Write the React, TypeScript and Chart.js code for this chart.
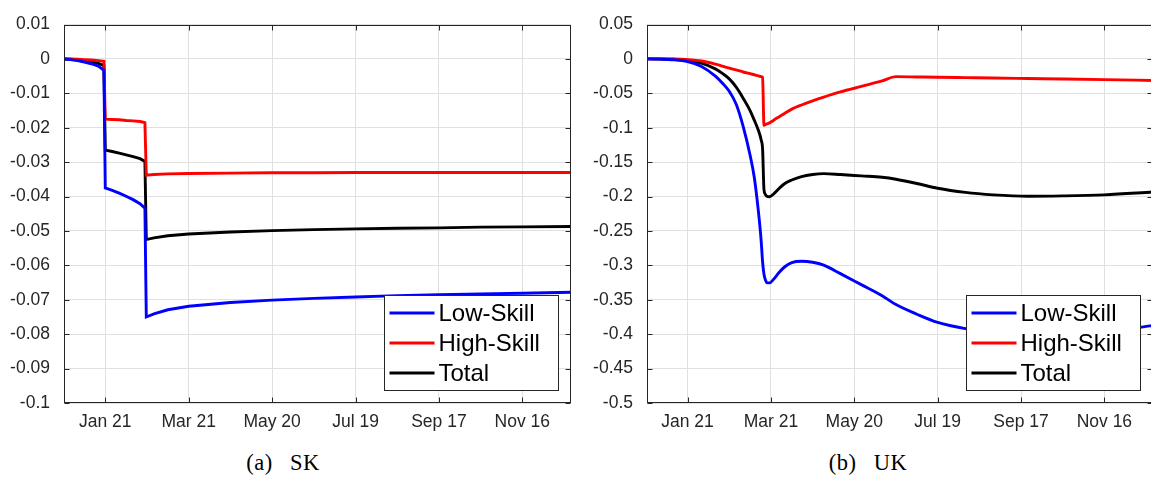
import React, { useEffect, useRef } from "react";
import { Chart, registerables } from "chart.js";

Chart.register(...registerables);

// ---------- shared axis data ----------
const xTickDays = [0, 60, 120, 180, 240, 300];
const xTickLabels = ["Jan 21", "Mar 21", "May 20", "Jul 19", "Sep 17", "Nov 16"];
const seriesNames = ["Low-Skill", "High-Skill", "Total"];
const seriesColors = ["#0000ff", "#ff0000", "#000000"];

// ---------- (a) SK ----------
const skDays = [-30, -25, -20, -15, -10, -5, -1, 0, 5, 10, 15, 20, 25, 28.5, 29.5, 35, 45, 60, 90, 120, 150, 180, 210, 240, 270, 300, 335];
const skLow = [0, -0.0002, -0.0005, -0.0009, -0.0014, -0.0021, -0.0033, -0.0375, -0.0382, -0.039, -0.0399, -0.0409, -0.0421, -0.0434, -0.075, -0.0741, -0.0729, -0.0719, -0.0708, -0.0701, -0.0696, -0.0692, -0.0688, -0.0685, -0.0683, -0.0681, -0.0678];
const skHigh = [0, 0, -0.0001, -0.0002, -0.0003, -0.0005, -0.0007, -0.0175, -0.0176, -0.0177, -0.0179, -0.018, -0.0182, -0.0185, -0.0338, -0.0336, -0.0334, -0.0333, -0.0332, -0.0331, -0.0331, -0.033, -0.033, -0.033, -0.033, -0.033, -0.033];
const skTotal = [0, -0.0001, -0.0003, -0.0006, -0.0009, -0.0013, -0.0019, -0.0265, -0.0269, -0.0274, -0.0279, -0.0284, -0.029, -0.0298, -0.0525, -0.052, -0.0514, -0.0509, -0.0503, -0.0499, -0.0496, -0.0494, -0.0492, -0.0491, -0.0489, -0.0488, -0.0487];
const skYTicks = [0.01, 0, -0.01, -0.02, -0.03, -0.04, -0.05, -0.06, -0.07, -0.08, -0.09, -0.1];

// ---------- (b) UK ----------
const ukDays = [-30, -20, -10, 0, 10, 20, 25, 30, 35, 40, 45, 48, 51, 53, 54, 55, 56, 57, 59, 62, 66, 70, 75, 82, 90, 98, 110, 125, 140, 150, 165, 180, 200, 220, 245, 270, 300, 335];
const ukLow = [0, -0.0003, -0.0012, -0.004, -0.011, -0.025, -0.035, -0.047, -0.066, -0.098, -0.14, -0.172, -0.222, -0.265, -0.295, -0.313, -0.321, -0.325, -0.3255, -0.32, -0.31, -0.302, -0.296, -0.294, -0.2955, -0.2997, -0.312, -0.328, -0.344, -0.357, -0.371, -0.383, -0.392, -0.397, -0.4, -0.399, -0.396, -0.3875];
const ukHigh = [0, 0, -0.0002, -0.001, -0.003, -0.0075, -0.0105, -0.0135, -0.016, -0.019, -0.0215, -0.023, -0.0245, -0.0258, -0.0266, -0.0966, -0.0955, -0.0945, -0.093, -0.089, -0.084, -0.079, -0.073, -0.067, -0.061, -0.0555, -0.048, -0.04, -0.032, -0.0258, -0.0262, -0.0266, -0.0272, -0.0278, -0.0285, -0.0292, -0.0301, -0.0313];
const ukTotal = [0, -0.0001, -0.0006, -0.002, -0.006, -0.0145, -0.021, -0.029, -0.041, -0.057, -0.075, -0.089, -0.104, -0.118, -0.131, -0.19, -0.197, -0.1995, -0.2003, -0.196, -0.188, -0.181, -0.176, -0.171, -0.168, -0.1667, -0.168, -0.17, -0.172, -0.1748, -0.181, -0.188, -0.194, -0.1975, -0.1995, -0.199, -0.1975, -0.1935];
const ukYTicks = [0.05, 0, -0.05, -0.1, -0.15, -0.2, -0.25, -0.3, -0.35, -0.4, -0.45, -0.5];

const AXIS_COLOR = "#262626";
const GRID_COLOR = "#e0e0e0";
const SANS = '"Liberation Sans", Arial, Helvetica, sans-serif';

const fmtY = (v: number) => {
  const n = Number(Number(v).toFixed(4));
  return n === 0 ? "0" : String(n);
};

const framePlugin = {
  id: "matlabFrame",
  afterDraw(chart: any) {
    const { ctx, chartArea: a, scales } = chart;
    const sx = scales.x;
    const sy = scales.y;
    ctx.save();
    ctx.strokeStyle = AXIS_COLOR;
    ctx.lineWidth = 1;
    const l = Math.round(a.left) + 0.5;
    const r = Math.round(a.right) - 0.5;
    const t = Math.round(a.top) + 0.5;
    const b = Math.round(a.bottom) - 0.5;
    ctx.strokeRect(l, t, r - l, b - t);
    const tl = 5;
    ctx.beginPath();
    sx.ticks.forEach((tk: any) => {
      const x = Math.round(sx.getPixelForValue(tk.value)) + 0.5;
      ctx.moveTo(x, b);
      ctx.lineTo(x, b - tl);
      ctx.moveTo(x, t);
      ctx.lineTo(x, t + tl);
    });
    sy.ticks.forEach((tk: any) => {
      const y = Math.round(sy.getPixelForValue(tk.value)) + 0.5;
      ctx.moveTo(l, y);
      ctx.lineTo(l + tl, y);
      ctx.moveTo(r, y);
      ctx.lineTo(r - tl, y);
    });
    ctx.stroke();

    // legend box
    const bw = 174;
    const bh = 95;
    const bx = Math.round(a.right - 13 - bw) + 0.5;
    const by = Math.round(a.bottom - 13 - bh) + 0.5;
    ctx.fillStyle = "#ffffff";
    ctx.fillRect(bx, by, bw, bh);
    ctx.strokeStyle = AXIS_COLOR;
    ctx.lineWidth = 1;
    ctx.strokeRect(bx, by, bw, bh);
    ctx.font = `24px ${SANS}`;
    ctx.textBaseline = "middle";
    ctx.textAlign = "left";
    chart.data.datasets.forEach((ds: any, i: number) => {
      const yy = by + 17.5 + i * 30;
      ctx.beginPath();
      ctx.strokeStyle = ds.borderColor;
      ctx.lineWidth = ds.borderWidth;
      ctx.moveTo(bx + 5, yy);
      ctx.lineTo(bx + 50, yy);
      ctx.stroke();
      ctx.fillStyle = "#000000";
      ctx.fillText(ds.label, bx + 54, yy + 1);
    });
    ctx.restore();
  },
};

function makeConfig(days: number[], series: number[][], yTicks: number[], xMin: number, xMax: number, padRight: number, smooth: boolean): any {
  return {
    type: "line",
    data: {
      datasets: series.map((vals, i) => ({
        label: seriesNames[i],
        data: days.map((d, j) => ({ x: d, y: vals[j] })),
        borderColor: seriesColors[i],
        backgroundColor: seriesColors[i],
        borderWidth: 2.9,
        pointRadius: 0,
        tension: 0,
        cubicInterpolationMode: smooth ? "monotone" : "default",
        fill: false,
      })),
    },
    options: {
      responsive: false,
      animation: false,
      devicePixelRatio: 1,
      layout: { padding: { top: 10, right: padRight, left: 0, bottom: 0 } },
      plugins: { legend: { display: false }, tooltip: { enabled: false } },
      scales: {
        x: {
          type: "linear",
          min: xMin,
          max: xMax,
          afterBuildTicks: (scale: any) => {
            scale.ticks = xTickDays.map((v) => ({ value: v }));
          },
          afterFit: (scale: any) => {
            scale.height = 37;
          },
          ticks: {
            autoSkip: false,
            maxRotation: 0,
            padding: 9,
            color: AXIS_COLOR,
            font: { family: SANS, size: 17.5 },
            callback: (v: number) => {
              const k = xTickDays.indexOf(v);
              return k >= 0 ? xTickLabels[k] : "";
            },
          },
          grid: { color: GRID_COLOR, lineWidth: 1, drawTicks: false },
          border: { display: false },
        },
        y: {
          type: "linear",
          min: yTicks[yTicks.length - 1],
          max: yTicks[0],
          afterBuildTicks: (scale: any) => {
            scale.ticks = yTicks.map((v) => ({ value: v }));
          },
          afterFit: (scale: any) => {
            scale.width = 64;
          },
          ticks: {
            autoSkip: false,
            padding: 14,
            color: AXIS_COLOR,
            font: { family: SANS, size: 17.5 },
            callback: (v: number) => fmtY(v),
          },
          grid: { color: GRID_COLOR, lineWidth: 1, drawTicks: false },
          border: { display: false },
        },
      },
    },
    plugins: [framePlugin],
  };
}

const captionStyle = (center: number): React.CSSProperties => ({
  position: "absolute",
  left: center - 100,
  width: 200,
  top: 452,
  textAlign: "center",
  fontFamily: '"Liberation Serif", "Times New Roman", serif',
  fontSize: 22.5,
  lineHeight: "22px",
  letterSpacing: "0.6px",
  color: "#000",
  whiteSpace: "nowrap",
});

export default function App() {
  const leftRef = useRef<HTMLCanvasElement | null>(null);
  const rightRef = useRef<HTMLCanvasElement | null>(null);

  useEffect(() => {
    const c1 = new Chart(leftRef.current as HTMLCanvasElement, makeConfig(skDays, [skLow, skHigh, skTotal], skYTicks, -29.7, 335, 9, false));
    const c2 = new Chart(rightRef.current as HTMLCanvasElement, makeConfig(ukDays, [ukLow, ukHigh, ukTotal], ukYTicks, -29.2, 335, 10, true));
    return () => {
      c1.destroy();
      c2.destroy();
    };
  }, []);

  return (
    <div style={{ position: "absolute", left: 0, top: 0, width: 1151, height: 480, overflow: "hidden", background: "#fff" }}>
      <canvas ref={leftRef} width={580} height={440} style={{ position: "absolute", left: 0, top: 0, width: 580, height: 440 }} />
      <canvas ref={rightRef} width={580} height={440} style={{ position: "absolute", left: 583, top: 0, width: 580, height: 440 }} />
      <div style={captionStyle(283)}>
        <span>(a)</span>
        <span style={{ marginLeft: 17 }}>SK</span>
      </div>
      <div style={captionStyle(868)}>
        <span>(b)</span>
        <span style={{ marginLeft: 17 }}>UK</span>
      </div>
    </div>
  );
}
